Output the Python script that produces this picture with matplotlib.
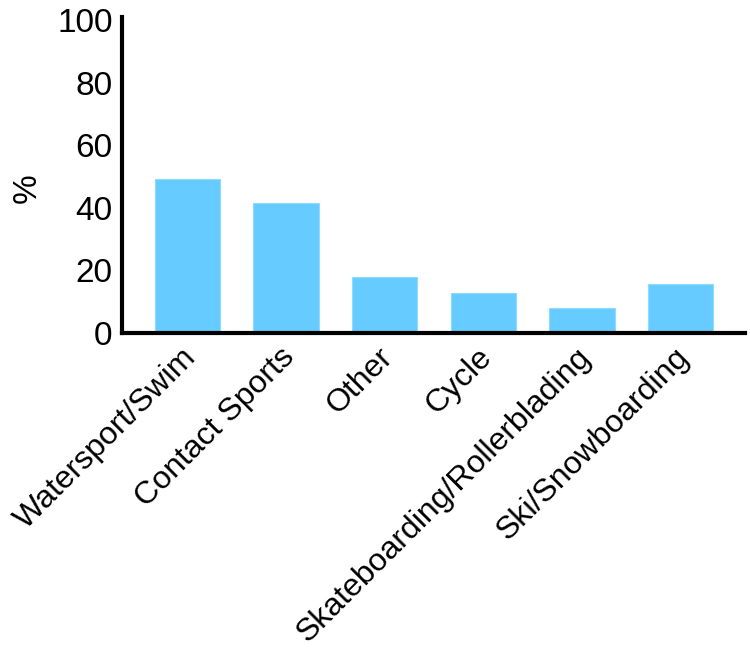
import matplotlib
matplotlib.use("Agg")
import matplotlib.pyplot as plt
import matplotlib.transforms as mtransforms

categories = ["Watersport/Swim", "Contact Sports", "Other", "Cycle",
              "Skateboarding/Rollerblading", "Ski/Snowboarding"]
values = [49.2, 41.5, 18.0, 12.7, 7.9, 15.7]
yticks = [0, 20, 40, 60, 80, 100]

plt.rcParams['font.family'] = ['Liberation Sans', 'DejaVu Sans']

fig = plt.figure(figsize=(7.5, 6.53), dpi=100)
ax = fig.add_axes([0.163, 0.49, 0.83, 0.484])
x = list(range(len(categories)))
ax.bar(x, values, width=0.66, color="#66CCFF", edgecolor="#8FDBFF", linewidth=0.8)
ax.set_xlim(-0.66, 5.65)
ax.set_ylim(0, 101)
ax.set_yticks(yticks)
ax.set_xticks(x)
ax.set_xticklabels(categories, rotation=45, ha="right", va="center",
                   rotation_mode="anchor")
ax.tick_params(axis="both", length=0, labelsize=24, pad=7)
ax.tick_params(axis="x", labelsize=23, pad=13)
offset = mtransforms.ScaledTranslation(0.04, -0.02, fig.dpi_scale_trans)
for lab in ax.get_xticklabels():
    lab.set_transform(lab.get_transform() + offset)
for s in ["top", "right"]:
    ax.spines[s].set_visible(False)
for s in ["left", "bottom"]:
    ax.spines[s].set_linewidth(3)
ax.set_ylabel("%", fontsize=24)
ax.yaxis.set_label_coords(-0.128, 0.46)
fig.savefig("out.png", dpi=100)
